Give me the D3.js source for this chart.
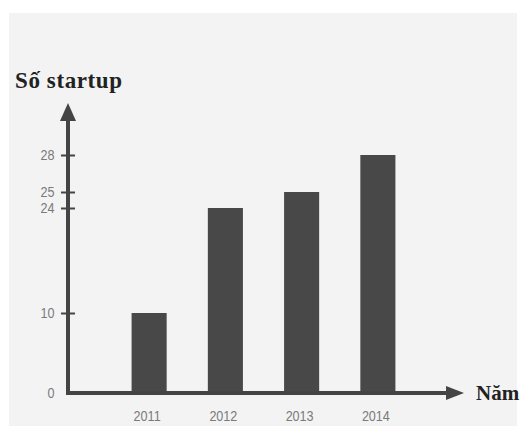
<!DOCTYPE html>
<html>
<head>
<meta charset="utf-8">
<script src="https://cdn.jsdelivr.net/npm/d3@7"></script>
<style>
  body { margin: 0; background: #fff; }
  .tick-label { font-family: 'Liberation Sans', Arial, sans-serif; font-size: 14px; fill: #7a7a7a; }
  .axis-title { font-family: 'Liberation Serif', 'Times New Roman', serif; font-weight: bold; fill: #222; }
</style>
</head>
<body>
<svg width="521" height="426"></svg>
<script>
const years = ['2011', '2012', '2013', '2014']
const startups = [10, 24, 25, 28]
const yTicks = [0, 10, 24, 25, 28]

const svg = d3.select('svg')
const width = +svg.attr('width')
const height = +svg.attr('height')

// paper background
svg.append('rect')
  .attr('x', 9).attr('y', 13)
  .attr('width', width - 13).attr('height', height - 13)
  .attr('fill', '#f3f3f3')

const axisX = 68
const baseY = 393

// the original drawing is not to scale, so the y scale is piecewise
const yScale = d3.scaleLinear()
  .domain([0, 10, 24, 25, 28])
  .range([baseY, 313, 208, 192, 155])

const xScale = d3.scaleBand()
  .domain(years)
  .range([111, 416])
  .paddingInner(0.54)
  .paddingOuter(0.27)

const ink = '#444'

// bars
svg.selectAll('rect.bar').data(startups)
  .enter().append('rect')
  .attr('class', 'bar')
  .attr('x', (d, i) => xScale(years[i]))
  .attr('y', d => yScale(d))
  .attr('width', xScale.bandwidth())
  .attr('height', d => baseY - yScale(d))
  .attr('fill', '#484848')

// y axis line + arrow
svg.append('line')
  .attr('x1', axisX).attr('x2', axisX)
  .attr('y1', baseY + 2).attr('y2', 115)
  .attr('stroke', ink).attr('stroke-width', 4)
svg.append('path')
  .attr('d', `M${axisX - 8},121 L${axisX},103 L${axisX + 8},121 Z`)
  .attr('fill', ink)

// x axis line + arrow
svg.append('line')
  .attr('x1', axisX - 2).attr('x2', 452)
  .attr('y1', baseY).attr('y2', baseY)
  .attr('stroke', ink).attr('stroke-width', 4)
svg.append('path')
  .attr('d', `M446,${baseY - 7} L464,${baseY} L446,${baseY + 7} Z`)
  .attr('fill', ink)

// y ticks
const yAxis = d3.axisLeft(yScale)
  .tickValues(yTicks)
  .tickSize(0)
  .tickPadding(15)
const yAxisG = svg.append('g')
  .attr('transform', `translate(${axisX}, 0)`)
  .call(yAxis)
yAxisG.select('.domain').remove()
yAxisG.selectAll('.tick text')
  .attr('class', 'tick-label').attr('fill', null)
  .attr('transform', 'scale(0.9,1)')
yAxisG.selectAll('.tick').filter(d => d > 0)
  .append('line')
  .attr('x1', -7).attr('x2', 7)
  .attr('stroke', ink).attr('stroke-width', 2)

// x labels
const xAxisG = svg.append('g')
  .attr('transform', `translate(0, ${baseY})`)
  .call(d3.axisBottom(xScale).tickSize(0).tickPadding(18))
xAxisG.select('.domain').remove()
xAxisG.selectAll('.tick text')
  .attr('class', 'tick-label').attr('fill', null)
  .attr('transform', 'scale(0.9,1)')
xAxisG.selectAll('.tick')
  .attr('transform', d => `translate(${xScale(d) + xScale.bandwidth() / 2 - 2},0)`)

// axis titles
svg.append('text')
  .attr('class', 'axis-title')
  .attr('x', 15).attr('y', 88)
  .attr('font-size', 23)
  .attr('letter-spacing', 0.6)
  .text('Số startup')

svg.append('text')
  .attr('class', 'axis-title')
  .attr('x', 476).attr('y', 400)
  .attr('font-size', 21)
  .text('Năm')
</script>
</body>
</html>
